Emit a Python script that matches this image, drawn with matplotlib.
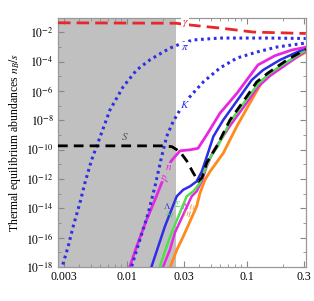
import numpy as np
import matplotlib
matplotlib.use("Agg")
import matplotlib.pyplot as plt
from matplotlib.ticker import FixedLocator, LogLocator, NullFormatter

plt.rcParams['font.family'] = ['Liberation Serif', 'DejaVu Serif']
plt.rcParams['mathtext.fontset'] = 'stix'

# temperatures in GeV, abundances as log10(n_B/s)
T_gamma = [0.00268, 0.0258, 0.0337, 0.060, 0.113, 0.31]
lg_gamma = [-1.35, -1.38, -1.50, -1.71, -1.98, -2.08]

T_pi = [0.00294, 0.00326, 0.00359, 0.00408, 0.00449, 0.00511, 0.00562, 0.00726,
        0.00937, 0.0121, 0.0156, 0.0183, 0.0230, 0.0278, 0.0357, 0.060, 0.156, 0.31]
lg_pi = [-17.83, -16.59, -15.22, -13.63, -12.27, -10.69, -9.78, -7.29,
         -5.70, -4.57, -3.88, -3.54, -3.07, -2.80, -2.52, -2.39, -2.39, -2.42]

T_K = [0.01101, 0.01291, 0.01514, 0.01722, 0.01958, 0.02154, 0.02432, 0.0278,
       0.0337, 0.0435, 0.0599, 0.0830, 0.1219, 0.1788, 0.31]
lg_K = [-17.95, -16.13, -14.31, -12.50, -10.46, -9.10, -8.10, -7.29,
        -6.38, -5.38, -4.43, -3.75, -3.34, -3.00, -2.73]

T_S = [0.00268, 0.00879, 0.02085, 0.02385, 0.0278, 0.03162, 0.03589, 0.03953, 0.04241,
       0.04645, 0.05623, 0.07261, 0.1, 0.1212, 0.1505, 0.2168, 0.31]
lg_S = [-9.74, -9.74, -9.74, -9.80, -10.14, -10.76, -11.59, -12.16, -11.91,
        -10.89, -9.78, -7.97, -6.38, -5.38, -4.77, -3.88, -3.16]

T_n = [0.01065, 0.01212, 0.01468, 0.01722, 0.01958, 0.02339, 0.0278, 0.0337, 0.03926,
       0.04645, 0.0599, 0.083, 0.1, 0.1242, 0.1722, 0.2384, 0.31]
lg_n = [-17.95, -16.59, -14.77, -13.41, -12.27, -10.79, -10.08, -10.01, -9.91,
        -8.99, -7.51, -6.15, -5.25, -4.22, -3.59, -3.20, -3.02]

T_lam = [0.01615, 0.01834, 0.02085, 0.02612, 0.02965, 0.0337, 0.03831, 0.04217,
         0.04645, 0.05275, 0.06383, 0.0879, 0.1101, 0.1368, 0.1895, 0.2527, 0.31]
lg_lam = [-17.95, -16.59, -15.22, -13.18, -12.73, -12.50, -12.16, -11.50,
          -10.48, -9.10, -7.97, -6.38, -5.25, -4.57, -3.88, -3.41, -3.10]

T_sig = [0.01894, 0.02154, 0.02371, 0.03162, 0.03589, 0.04083, 0.04493, 0.04943,
         0.05768, 0.07261, 0.1, 0.1242, 0.1563, 0.2296, 0.31]
lg_sig = [-17.95, -16.59, -15.67, -13.18, -12.84, -12.27, -11.37, -10.55,
          -9.74, -8.10, -6.54, -5.52, -4.77, -3.88, -3.20]

T_lam2 = [0.02018, 0.02296, 0.02526, 0.0348, 0.03831, 0.04217, 0.04645, 0.05236,
          0.07261, 0.1, 0.1242, 0.1563, 0.2296, 0.31]
lg_lam2 = [-17.95, -16.81, -15.65, -13.18, -12.84, -12.16, -11.14, -10.14,
           -8.37, -6.81, -5.72, -4.97, -4.02, -3.27]

T_xi = [0.02317, 0.02624, 0.02965, 0.03831, 0.04083, 0.04493, 0.04943, 0.06383,
        0.08254, 0.1065, 0.1368, 0.1895, 0.2527, 0.31]
lg_xi = [-17.95, -16.81, -15.91, -13.86, -12.95, -12.05, -11.50, -10.23,
         -8.42, -6.81, -5.25, -4.36, -3.75, -3.37]

T_dec = 0.0258

red = '#e8262b'
blue = '#2e2ee6'
mag = '#e629e0'
green = '#4ee04e'
orange = '#ff8a1c'
gray = '#c0c0c0'

fig = plt.figure(figsize=(3.14, 3.01), dpi=100)
ax = fig.add_axes([0.1847, 0.113, 0.79, 0.827])

ax.axvspan(0.0025, T_dec, color=gray, lw=0, zorder=0)

def p(lg):
    return 10.0 ** np.array(lg)

ax.plot(T_xi, p(lg_xi), color=orange, lw=2.0, zorder=2, solid_joinstyle='round')
ax.plot(T_lam2, p(lg_lam2), color=mag, lw=1.8, zorder=2, solid_joinstyle='round')
ax.plot(T_sig, p(lg_sig), color=green, lw=1.8, zorder=2, solid_joinstyle='round')
ax.plot(T_lam, p(lg_lam), color=blue, lw=1.8, zorder=3, solid_joinstyle='round')
ax.plot(T_n, p(lg_n), color=mag, lw=2.0, zorder=3, solid_joinstyle='round')
ax.plot(T_S, p(lg_S), color='black', lw=2.0, dashes=(3.5, 2.2), zorder=4)
ax.plot(T_K, p(lg_K), color=blue, lw=2.2, dashes=(0.9, 1.2), zorder=3)
ax.plot(T_pi, p(lg_pi), color=blue, lw=2.2, dashes=(0.9, 1.2), zorder=3)
ax.plot(T_gamma, p(lg_gamma), color=red, lw=2.0, dashes=(4.5, 2.2), zorder=3)

lab = dict(fontsize=8, style='italic', ha='center', va='center', zorder=6)
ax.text(0.0306, 10**-1.40, r'$\gamma$', color=red,
        bbox=dict(fc='white', ec='none', pad=0.5), **lab)
ax.text(0.0306, 10**-3.03, r'$\pi$', color=blue,
        bbox=dict(fc='white', ec='none', pad=0.5), **lab)
ax.text(0.0306, 10**-6.95, r'$K$', color=blue,
        bbox=dict(fc='white', ec='none', pad=0.5), **lab)
ax.text(0.00968, 10**-9.1, r'$S$', color='#555555', **lab)
ax.text(0.0222, 10**-11.23, r'$n$', color=mag,
        bbox=dict(fc=gray, ec='none', pad=0.3), **lab)
ax.text(0.0211, 10**-11.9, r'$p$', color=mag, rotation=70,
        bbox=dict(fc=gray, ec='none', pad=0.3), **lab)
small = dict(fontsize=6.5, ha='center', va='center', zorder=6)
ax.text(0.0218, 10**-13.85, r'$\Lambda$', color=blue, **small)
ax.text(0.0232, 10**-14.35, r'$\Sigma$', color=green, rotation=70, **small)
ax.text(0.0268, 10**-13.7, r'$\Sigma$', color=green, **small)
ax.text(0.0306, 10**-13.85, r'$\Lambda$', color=mag, **small)
ax.text(0.0328, 10**-14.3, r'$\Xi$', color='#d08a40', rotation=75, **small)
ax.text(0.0362, 10**-13.9, r'$\Xi$', color=orange, rotation=75, **small)

ax.set_xscale('log')
ax.set_yscale('log')
ax.set_xlim(0.00268, 0.312)
ax.set_ylim(1e-18, 0.094)

xt = [0.003, 0.01, 0.03, 0.1, 0.3]
ax.xaxis.set_major_locator(FixedLocator(xt))
ax.set_xticklabels(['0.003', '0.01', '0.03', '0.1', '0.3'])
ax.xaxis.set_minor_locator(LogLocator(base=10, subs=np.arange(2, 10)))
ax.xaxis.set_minor_formatter(NullFormatter())

yt = [10.0**e for e in range(-18, -1, 2)]
ax.yaxis.set_major_locator(FixedLocator(yt))
ax.set_yticklabels([r'$10^{%d}$' % e for e in range(-18, -1, 2)])
ax.yaxis.set_minor_locator(FixedLocator([10.0**e for e in range(-17, 0, 2)]))
ax.yaxis.set_minor_formatter(NullFormatter())

ax.tick_params(which='both', direction='in', top=True, right=True,
               color='#888888', labelsize=8.5, pad=3)
ax.tick_params(which='major', length=4, width=0.8)
ax.tick_params(which='minor', length=2, width=0.6)
for s in ax.spines.values():
    s.set_color('#999999')
    s.set_linewidth(0.9)

ax.set_xlabel('Temperature in GeV', fontsize=8.5, labelpad=12)
ax.set_ylabel(r'Thermal equilibrium abundances $n_B/s$', fontsize=8.5, labelpad=2)

fig.savefig('out.png', dpi=100)
